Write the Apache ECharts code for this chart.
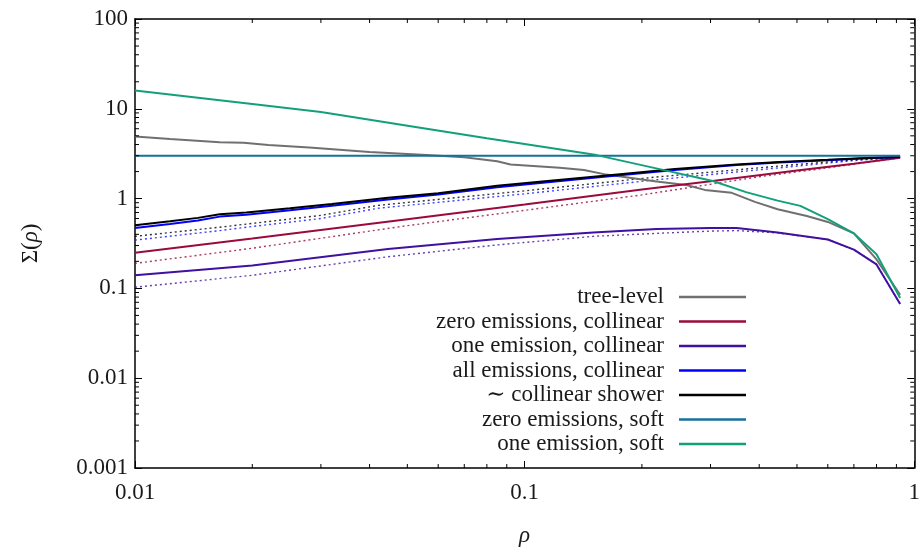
<!DOCTYPE html>
<html>
<head>
<meta charset="utf-8">
<script src="https://cdn.jsdelivr.net/npm/echarts@6/dist/echarts.min.js"></script>
<style>
  html, body { margin: 0; padding: 0; background: #fff; }
  #chart { width: 923px; height: 552px; }
</style>
</head>
<body>
<div id="chart"></div>
<script>
// values (rho, Sigma(rho))
var treeRho  = [0.01, 0.0123, 0.0165, 0.019, 0.022, 0.028, 0.04, 0.056, 0.07, 0.085, 0.092, 0.123, 0.142, 0.162, 0.218, 0.26, 0.29, 0.34, 0.39, 0.446, 0.53, 0.6, 0.7, 0.8, 0.92];
var treeVal  = [4.9, 4.6, 4.25, 4.2, 3.95, 3.7, 3.3, 3.05, 2.88, 2.6, 2.4, 2.2, 2.08, 1.85, 1.55, 1.42, 1.25, 1.16, 0.92, 0.76, 0.64, 0.55, 0.41, 0.21, 0.085];

var zeroCollRho = [0.01, 0.02, 0.05, 0.1, 0.2, 0.3, 0.5, 0.7, 0.92];
var zeroCollVal = [0.25, 0.36, 0.59, 0.86, 1.26, 1.56, 2.05, 2.45, 2.85];
var zeroCollDotRho = [0.01, 0.02, 0.05, 0.1, 0.2, 0.4, 0.6, 0.92];
var zeroCollDotVal = [0.19, 0.28, 0.5, 0.74, 1.1, 1.75, 2.2, 2.85];

var oneCollRho = [0.01, 0.02, 0.0446, 0.085, 0.15, 0.218, 0.3, 0.35, 0.446, 0.6, 0.7, 0.8, 0.92];
var oneCollVal = [0.14, 0.18, 0.275, 0.355, 0.42, 0.46, 0.47, 0.47, 0.42, 0.35, 0.27, 0.185, 0.067];
var oneCollDotVal = [0.103, 0.14, 0.225, 0.305, 0.38, 0.41, 0.435, 0.44, 0.415, 0.35, 0.27, 0.185, 0.067];

var showerRho = [0.01, 0.0123, 0.0145, 0.0165, 0.0193, 0.025, 0.032, 0.0446, 0.06, 0.085, 0.12, 0.16, 0.243, 0.35, 0.45, 0.6, 0.73, 0.92];
var showerVal = [0.505, 0.56, 0.61, 0.67, 0.70, 0.78, 0.87, 1.02, 1.15, 1.39, 1.6, 1.8, 2.13, 2.4, 2.55, 2.7, 2.82, 2.9];
var allCollVal = [0.47, 0.52, 0.57, 0.63, 0.66, 0.74, 0.83, 0.98, 1.11, 1.34, 1.55, 1.75, 2.08, 2.36, 2.52, 2.68, 2.8, 2.9];

var dotRho = [0.01, 0.0165, 0.0193, 0.03, 0.042, 0.1, 0.218, 0.5, 0.7, 0.92];
var showerDotVal  = [0.38, 0.48, 0.52, 0.65, 0.84, 1.22, 1.74, 2.4, 2.7, 2.9];
var allCollDotVal = [0.345, 0.44, 0.48, 0.6, 0.78, 1.13, 1.62, 2.3, 2.65, 2.88];

var zeroSoftRho = [0.01, 0.92];
var zeroSoftVal = [3.0, 3.0];

var oneSoftRho = [0.01, 0.02, 0.03, 0.056, 0.08, 0.153, 0.205, 0.304, 0.37, 0.446, 0.51, 0.6, 0.7, 0.8, 0.92];
var oneSoftVal = [16, 11.3, 9.2, 6.0, 4.7, 3.05, 2.3, 1.57, 1.18, 0.95, 0.83, 0.59, 0.41, 0.24, 0.078];

var legendNames = ['tree-level', 'zero emissions, collinear', 'one emission, collinear',
  'all emissions, collinear', '\u223c collinear shower', 'zero emissions, soft', 'one emission, soft'];

// minor tick positions of the log axes
var xMinor = [], yMinor = [];
[0.01, 0.1].forEach(function (d) { for (var k = 2; k <= 9; k++) xMinor.push(k * d); });
[0.001, 0.01, 0.1, 1, 10].forEach(function (d) { for (var k = 2; k <= 9; k++) yMinor.push(k * d); });

function zip(xs, ys) {
  return xs.map(function (x, i) { return [x, ys[i]]; });
}

var serif = '"Liberation Serif", "DejaVu Serif", serif';
var ink = '#1a1a1a';

function solid(name, color, xs, ys) {
  return {
    name: name, type: 'line', data: zip(xs, ys), symbol: 'none',
    lineStyle: { color: color, width: 2 }, itemStyle: { color: color },
    z: 3, silent: true
  };
}
function dotted(color, xs, ys) {
  return {
    name: '_dot', type: 'line', data: zip(xs, ys), symbol: 'none',
    lineStyle: { color: color, width: 1.4, type: [2, 3], opacity: 0.8 },
    z: 2, silent: true
  };
}

function tickSeries(values, isX) {
  return {
    type: 'custom', name: '_ticks', silent: true, z: 5,
    data: values,
    renderItem: function (params, api) {
      var cs = params.coordSys;
      var v = api.value(0);
      var lines = [];
      if (isX) {
        var px = api.coord([v, 1])[0];
        lines.push([px, cs.y + cs.height, px, cs.y + cs.height - 4]);
        lines.push([px, cs.y, px, cs.y + 4]);
      } else {
        var py = api.coord([0.1, v])[1];
        lines.push([cs.x, py, cs.x + 4, py]);
        lines.push([cs.x + cs.width, py, cs.x + cs.width - 4, py]);
      }
      return {
        type: 'group',
        children: lines.map(function (l) {
          return { type: 'line', shape: { x1: l[0], y1: l[1], x2: l[2], y2: l[3] },
                   style: { stroke: '#000', lineWidth: 1 } };
        })
      };
    }
  };
}

function fmt(v) { return String(+(+v).toPrecision(3)); }

var axisCommon = {
  type: 'log', logBase: 10,
  axisLine: { show: true, lineStyle: { color: '#000', width: 1.5 } },
  axisTick: { show: true, inside: true, length: 7, lineStyle: { color: '#000', width: 1 } },
  splitLine: { show: false }
};

var chart = echarts.init(document.getElementById('chart'));
var option = {
  backgroundColor: '#fff',
  animation: false,
  grid: { left: 135, right: 2, top: 19, bottom: 77 },
  legend: {
    data: legendNames,
    orient: 'vertical', align: 'right',
    right: 172, top: 280,
    icon: 'rect',
    itemWidth: 67, itemHeight: 2.5, itemGap: 0.5,
    textStyle: { fontFamily: serif, fontSize: 23, lineHeight: 24, color: ink, padding: [0, 10, 0, 0] },
    selectedMode: false
  },
  xAxis: [
    Object.assign({}, axisCommon, {
      min: 0.01, max: 1, position: 'bottom',
      name: '\u03c1', nameLocation: 'middle', nameGap: 56,
      nameTextStyle: { fontFamily: serif, fontStyle: 'italic', fontSize: 23, color: ink },
      axisLabel: { formatter: fmt, margin: 13, fontFamily: serif, fontSize: 23, color: ink }
    }),
    Object.assign({}, axisCommon, {
      min: 0.01, max: 1, position: 'top', axisLabel: { show: false }
    })
  ],
  yAxis: [
    Object.assign({}, axisCommon, {
      min: 0.001, max: 100, position: 'left',
      name: '{a|\u03a3(}{b|\u03c1}{a|)}', nameLocation: 'middle', nameGap: 93, nameRotate: 90,
      nameTextStyle: {
        fontFamily: serif, fontSize: 23, color: ink,
        rich: {
          a: { fontFamily: serif, fontSize: 23, color: ink },
          b: { fontFamily: serif, fontSize: 23, color: ink, fontStyle: 'italic' }
        }
      },
      axisLabel: { formatter: fmt, margin: 7, fontFamily: serif, fontSize: 23, color: ink }
    }),
    Object.assign({}, axisCommon, {
      min: 0.001, max: 100, position: 'right', axisLabel: { show: false }
    })
  ],
  series: [
    tickSeries(xMinor, true),
    tickSeries(yMinor, false),
    solid(legendNames[0], '#707070', treeRho, treeVal),
    dotted('#9a0a3c', zeroCollDotRho, zeroCollDotVal),
    solid(legendNames[1], '#9a0a3c', zeroCollRho, zeroCollVal),
    dotted('#4010a0', oneCollRho, oneCollDotVal),
    solid(legendNames[2], '#4010a0', oneCollRho, oneCollVal),
    dotted('#1010ff', dotRho, allCollDotVal),
    solid(legendNames[3], '#0000ff', showerRho, allCollVal),
    dotted('#000000', dotRho, showerDotVal),
    solid(legendNames[4], '#000000', showerRho, showerVal),
    solid(legendNames[5], '#16709c', zeroSoftRho, zeroSoftVal),
    solid(legendNames[6], '#12a07a', oneSoftRho, oneSoftVal)
  ]
};
chart.setOption(option);
</script>
</body>
</html>
